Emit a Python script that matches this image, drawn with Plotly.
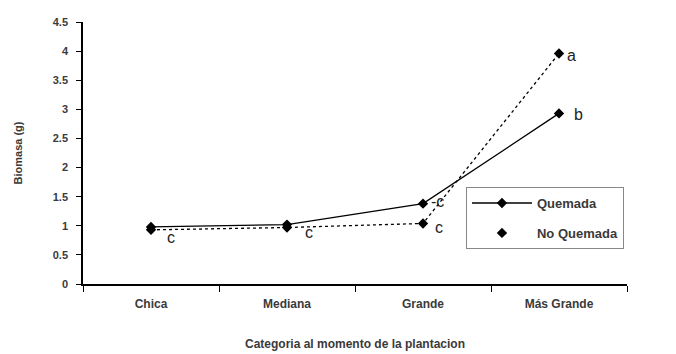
import plotly.graph_objects as go

categories = ["Chica", "Mediana", "Grande", "Más Grande"]
quemada = [0.98, 1.02, 1.38, 2.93]
no_quemada = [0.93, 0.97, 1.04, 3.96]
letters_q = ["", "", "-c", "b"]
letters_nq = ["c", "c", "c", "a"]

font = "Liberation Sans, Arial, sans-serif"
txt = "#3a3a3a"
fig = go.Figure()
fig.add_trace(go.Scatter(x=categories, y=quemada, mode="lines+markers", name="Quemada",
                         legendgroup="q",
                         line=dict(color="black", width=1.3),
                         marker=dict(symbol="diamond", size=8, color="black")))
fig.add_trace(go.Scatter(x=categories, y=no_quemada, mode="lines+markers", name="No Quemada",
                         showlegend=False, legendgroup="nq",
                         line=dict(color="black", width=1.3, dash="dot"),
                         marker=dict(symbol="diamond", size=8, color="black")))
fig.add_trace(go.Scatter(x=[None], y=[None], mode="markers", name="No Quemada",
                         legendgroup="nq",
                         marker=dict(symbol="diamond", size=8, color="black")))

shifts_q = [0, 0, 14, 19]
shifts_nq = [20, 22, 16, 12]
yshift_q = [2, 0, 2, -1]
yshift_nq = [-8, -5, -4, -2]
for i, c in enumerate(categories):
    if letters_q[i]:
        fig.add_annotation(x=c, y=quemada[i], text=letters_q[i], showarrow=False,
                           xshift=shifts_q[i], yshift=yshift_q[i],
                           font=dict(size=16, color="#222", family=font))
    fig.add_annotation(x=c, y=no_quemada[i], text=letters_nq[i], showarrow=False,
                       xshift=shifts_nq[i], yshift=yshift_nq[i],
                       font=dict(size=16, color="#222", family=font))

fig.update_layout(
    width=676, height=354,
    margin=dict(l=75, r=57, t=14, b=78),
    paper_bgcolor="white", plot_bgcolor="white",
    font=dict(family=font, size=11, color=txt),
    legend=dict(x=0.704, y=0.37, xanchor="left", yanchor="top",
                bordercolor="#888", borderwidth=1, bgcolor="white",
                font=dict(size=13, color=txt, weight="bold"), tracegroupgap=10,
                itemwidth=60),
    xaxis=dict(type="category", range=[-0.5, 3.5], showgrid=False,
               showline=True, linecolor="black", linewidth=1.5,
               ticks="outside", tickson="boundaries", ticklen=6, tickcolor="black",
               ticklabelstandoff=8,
               tickfont=dict(size=12, color=txt, weight="bold"), automargin=False,
               title=dict(text="Categoria al momento de la plantacion",
                          font=dict(size=12, color=txt, weight="bold"), standoff=29)),
    yaxis=dict(range=[0, 4.5], dtick=0.5, showgrid=False, zeroline=False,
               showline=True, linecolor="black", linewidth=1.5,
               ticks="outside", ticklen=5, tickcolor="black", ticklabelstandoff=6,
               tickfont=dict(size=11, color=txt, weight="bold"), automargin=False,
               title=dict(text="Biomasa (g)", font=dict(size=11, color=txt, weight="bold"), standoff=28)),
)
fig.write_html("out.html")
